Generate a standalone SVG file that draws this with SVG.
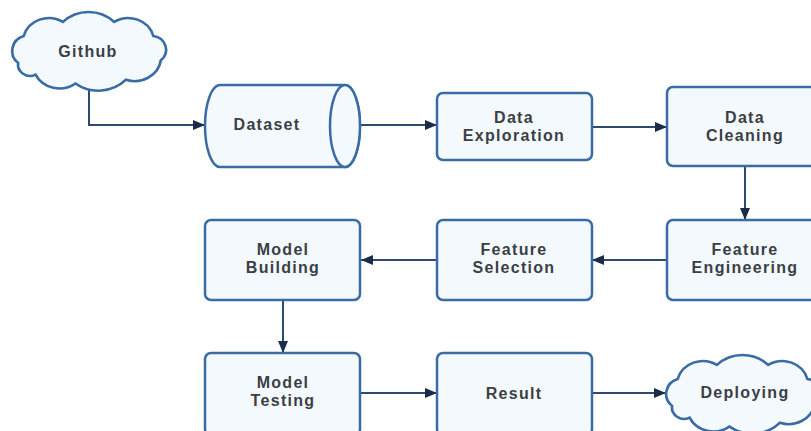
<svg xmlns="http://www.w3.org/2000/svg" width="811" height="431" viewBox="0 0 811 431">
  <defs>
    <style>
      .shape { fill: #f4f9fe; stroke: #3a6ca4; stroke-width: 2.5; }
      .label { font-family: "Liberation Sans", Arial, sans-serif; font-size: 16px; font-weight: bold; fill: #3a3f45; text-anchor: middle; letter-spacing: 1.3px; }
      .edge { fill: none; stroke: #2e4a6e; stroke-width: 2; }
    </style>
    <marker id="arrow" viewBox="0 0 12 10" refX="12" refY="5" markerWidth="12" markerHeight="10" markerUnits="userSpaceOnUse" orient="auto">
      <path d="M0,0 L12,5 L0,10 Z" fill="#1b2c48"/>
    </marker>
    <path id="cloud" d="M11.7,50.9 A15.7,15.7 0 0 1 16.9,24 A24.4,24.4 0 0 1 53.6,9.9 A33.6,33.6 0 0 1 101.4,9.9 A24.4,24.4 0 0 1 138.1,24 A13.9,13.9 0 0 1 145.1,48.3 A24.6,24.6 0 0 1 112.5,67.7 A35.7,35.7 0 0 1 65.3,71.5 A25,25 0 0 1 28,62.6 A11.3,11.3 0 0 1 11.7,50.9 Z"/>
  </defs>

  <rect width="811" height="431" fill="#ffffff"/>

  <!-- connectors -->
  <g id="connectors">
    <path class="edge" d="M89,90 L89,125 L205,125" marker-end="url(#arrow)"/>
    <path class="edge" d="M360,125 L437,125" marker-end="url(#arrow)"/>
    <path class="edge" d="M592,127 L667,127" marker-end="url(#arrow)"/>
    <path class="edge" d="M745,166 L745,220" marker-end="url(#arrow)"/>
    <path class="edge" d="M667,260 L592,260" marker-end="url(#arrow)"/>
    <path class="edge" d="M437,260 L361,260" marker-end="url(#arrow)"/>
    <path class="edge" d="M283,300 L283,353" marker-end="url(#arrow)"/>
    <path class="edge" d="M360,393 L437,393" marker-end="url(#arrow)"/>
    <path class="edge" d="M592,393 L666,393" marker-end="url(#arrow)"/>
  </g>

  <g id="github">
    <use href="#cloud" class="shape" transform="translate(5.6,12) scale(1.07,1)"/>
    <text class="label" x="88" y="57">Github</text>
  </g>

  <g id="dataset">
    <path class="shape" d="M220,85 L345,85 A15,41 0 0 1 345,167 L220,167 A15,41 0 0 1 220,85 Z"/>
    <ellipse class="shape" cx="345" cy="126" rx="15" ry="41"/>
    <text class="label" x="267" y="130">Dataset</text>
  </g>

  <g id="data-exploration">
    <rect class="shape" x="437" y="93" width="155" height="67" rx="6"/>
    <text class="label" x="514" y="123">Data</text>
    <text class="label" x="514" y="141">Exploration</text>
  </g>

  <g id="data-cleaning">
    <rect class="shape" x="667" y="87" width="156" height="79" rx="6"/>
    <text class="label" x="745" y="123">Data</text>
    <text class="label" x="745" y="141">Cleaning</text>
  </g>

  <g id="feature-engineering">
    <rect class="shape" x="667" y="220" width="156" height="80" rx="6"/>
    <text class="label" x="745" y="255">Feature</text>
    <text class="label" x="745" y="273">Engineering</text>
  </g>

  <g id="feature-selection">
    <rect class="shape" x="437" y="220" width="155" height="80" rx="6"/>
    <text class="label" x="514" y="255">Feature</text>
    <text class="label" x="514" y="273">Selection</text>
  </g>

  <g id="model-building">
    <rect class="shape" x="205" y="220" width="155" height="80" rx="6"/>
    <text class="label" x="283" y="255">Model</text>
    <text class="label" x="283" y="273">Building</text>
  </g>

  <g id="model-testing">
    <rect class="shape" x="205" y="353" width="155" height="82" rx="6"/>
    <text class="label" x="283" y="388">Model</text>
    <text class="label" x="283" y="406">Testing</text>
  </g>

  <g id="result">
    <rect class="shape" x="437" y="353" width="155" height="82" rx="6"/>
    <text class="label" x="514" y="399">Result</text>
  </g>

  <g id="deploying">
    <use href="#cloud" class="shape" transform="translate(659.6,355) scale(1.07,1)"/>
    <text class="label" x="745" y="398">Deploying</text>
  </g>
</svg>
